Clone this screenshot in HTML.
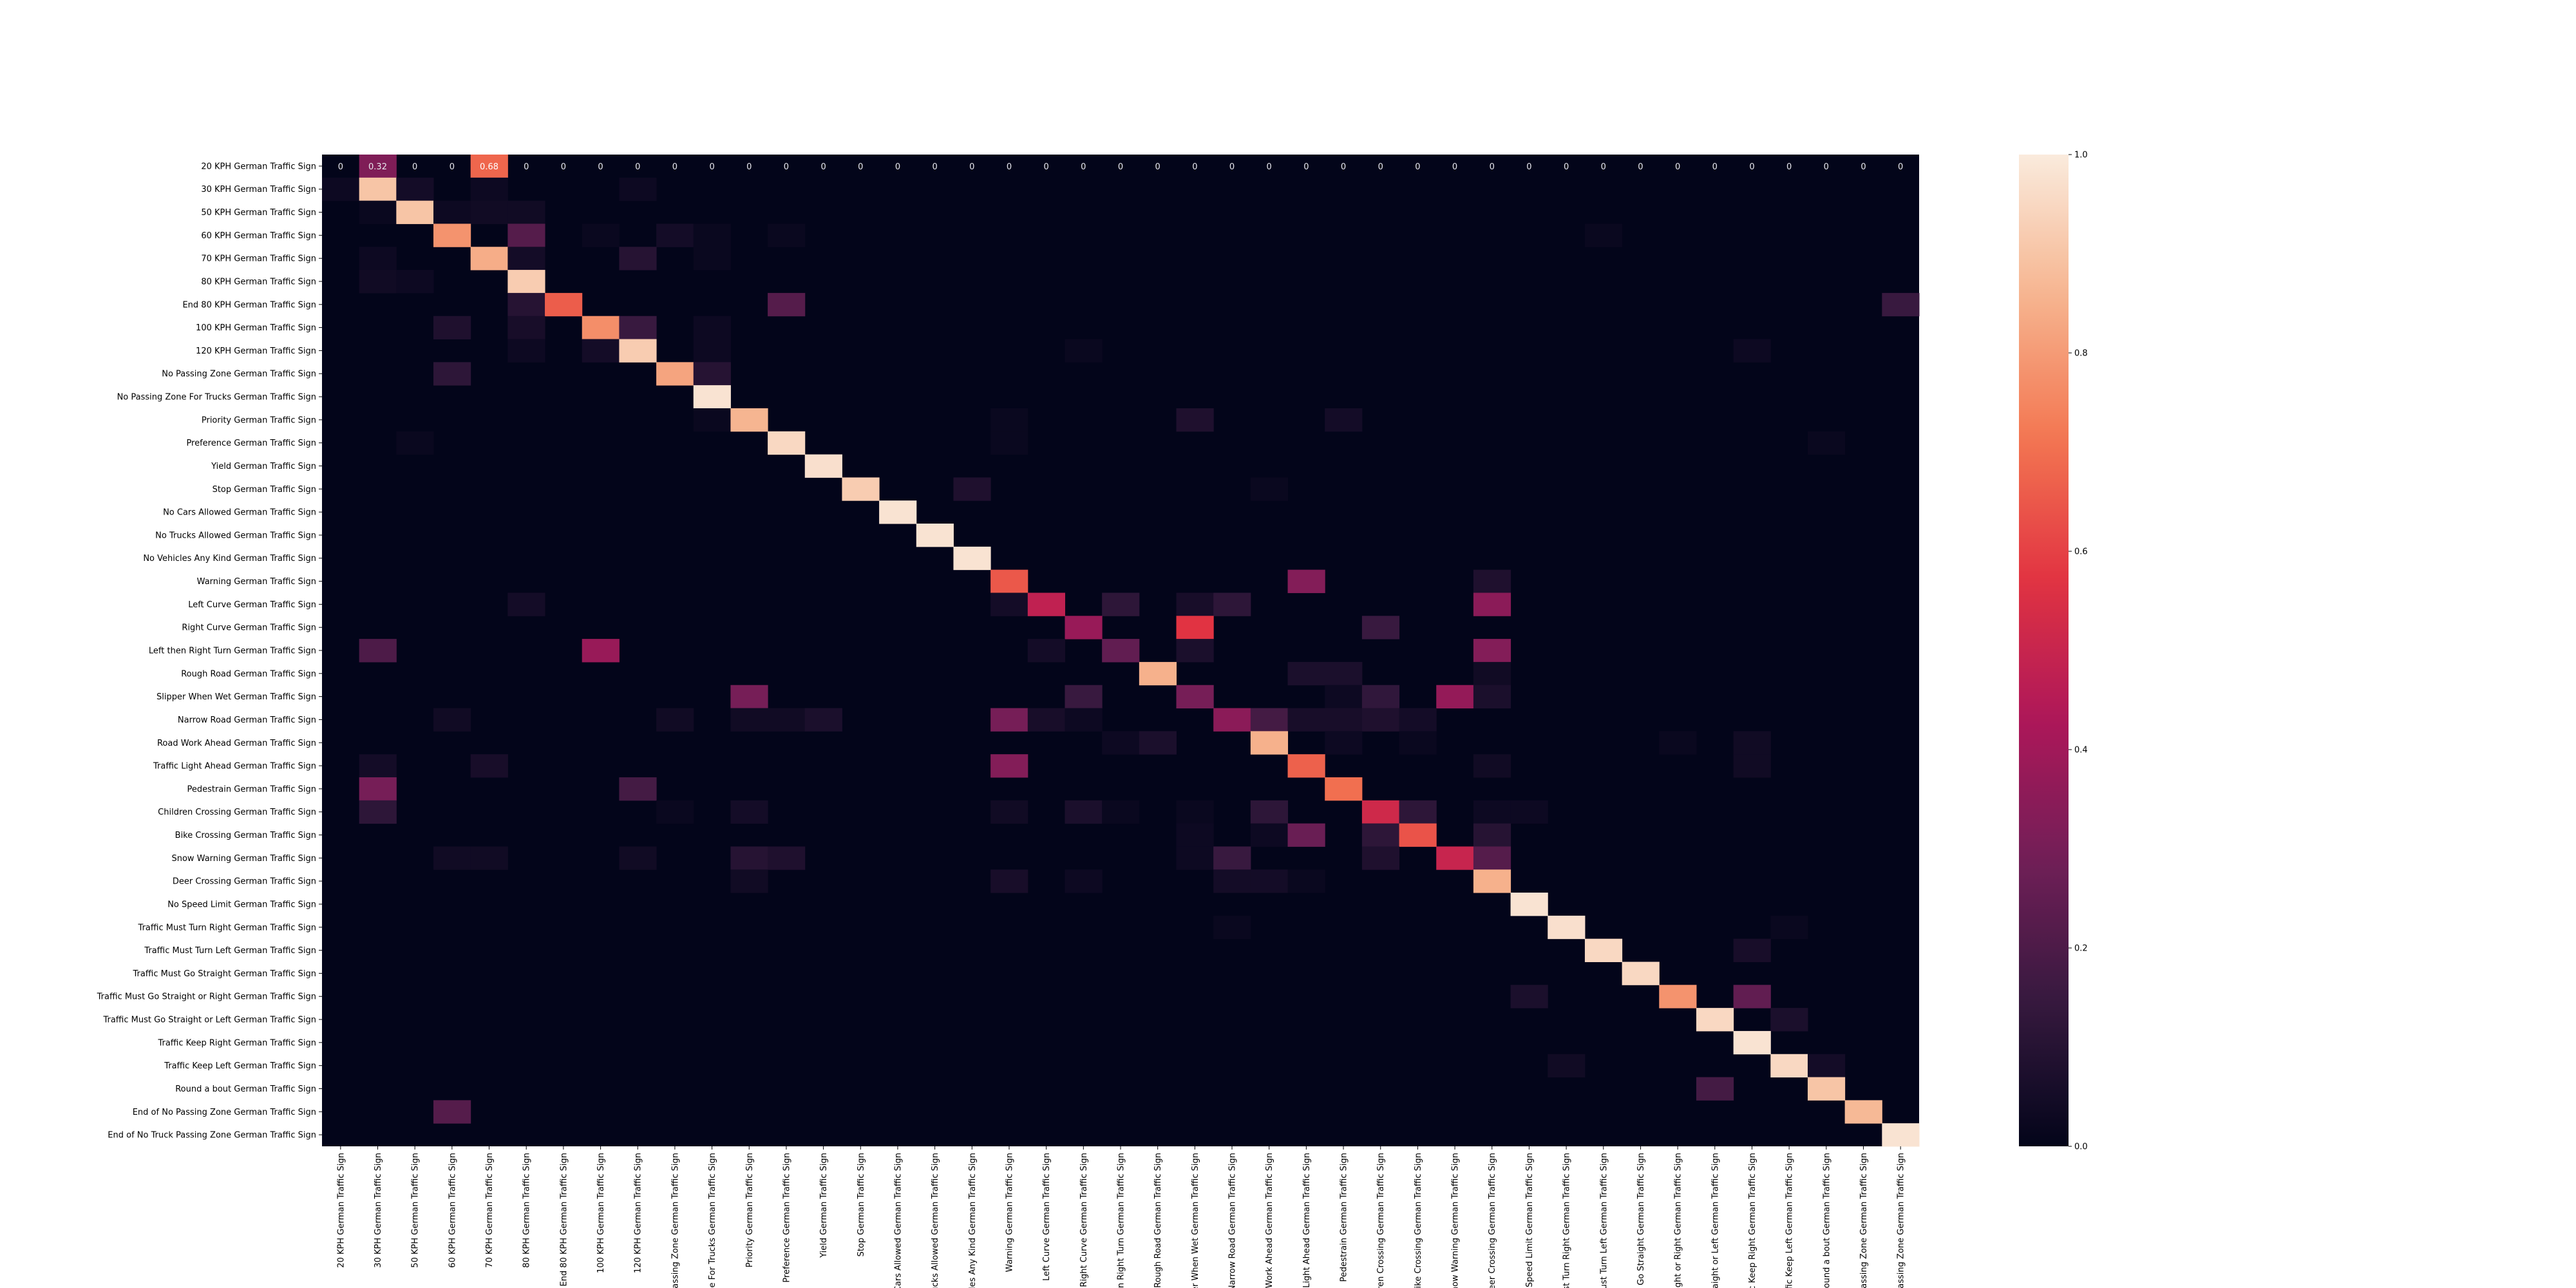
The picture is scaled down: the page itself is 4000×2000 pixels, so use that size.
<!DOCTYPE html>
<html><head><meta charset="utf-8"><style>
html,body{margin:0;padding:0;background:#fff;width:4000px;height:2000px;overflow:hidden;}
svg{display:block;overflow:hidden;font-family:"DejaVu Sans","Liberation Sans",sans-serif;}
</style></head><body>
<svg id="chart" width="4000" height="2000" viewBox="0 0 4000 2000" xmlns="http://www.w3.org/2000/svg">
<rect width="4000" height="2000" fill="#ffffff"/>
<g id="cells"></g>
<g id="annots"></g>
<g id="ylab"></g>
<g id="xlab"></g>
<g id="cbar"></g>
</svg>
<script>
const classNames = ["20 KPH German Traffic Sign","30 KPH German Traffic Sign","50 KPH German Traffic Sign","60 KPH German Traffic Sign","70 KPH German Traffic Sign","80 KPH German Traffic Sign","End 80 KPH German Traffic Sign","100 KPH German Traffic Sign","120 KPH German Traffic Sign","No Passing Zone German Traffic Sign","No Passing Zone For Trucks German Traffic Sign","Priority German Traffic Sign","Preference German Traffic Sign","Yield German Traffic Sign","Stop German Traffic Sign","No Cars Allowed German Traffic Sign","No Trucks Allowed German Traffic Sign","No Vehicles Any Kind German Traffic Sign","Warning German Traffic Sign","Left Curve German Traffic Sign","Right Curve German Traffic Sign","Left then Right Turn German Traffic Sign","Rough Road German Traffic Sign","Slipper When Wet German Traffic Sign","Narrow Road German Traffic Sign","Road Work Ahead German Traffic Sign","Traffic Light Ahead German Traffic Sign","Pedestrain German Traffic Sign","Children Crossing German Traffic Sign","Bike Crossing German Traffic Sign","Snow Warning German Traffic Sign","Deer Crossing German Traffic Sign","No Speed Limit German Traffic Sign","Traffic Must Turn Right German Traffic Sign","Traffic Must Turn Left German Traffic Sign","Traffic Must Go Straight German Traffic Sign","Traffic Must Go Straight or Right German Traffic Sign","Traffic Must Go Straight or Left German Traffic Sign","Traffic Keep Right German Traffic Sign","Traffic Keep Left German Traffic Sign","Round a bout German Traffic Sign","End of No Passing Zone German Traffic Sign","End of No Truck Passing Zone German Traffic Sign"];
const diagValues = [0,0.9,0.9,0.78,0.84,0.92,0.66,0.77,0.92,0.82,0.98,0.86,0.95,0.97,0.92,0.98,0.98,0.98,0.65,0.48,0.38,0.25,0.85,0.3,0.35,0.85,0.67,0.7,0.52,0.64,0.5,0.85,0.98,0.97,0.95,0.95,0.78,0.95,0.98,0.95,0.9,0.87,0.98];
// [row, col, value]
const offDiag = [
[0,1,0.32],[0,4,0.68],
[1,0,0.03],[1,2,0.05],[1,4,0.03],[1,8,0.03],
[2,1,0.02],[2,3,0.03],[2,4,0.04],[2,5,0.04],
[3,5,0.22],[3,7,0.02],[3,9,0.05],[3,10,0.02],[3,12,0.02],[3,34,0.02],
[4,1,0.03],[4,5,0.05],[4,8,0.1],[4,10,0.02],
[5,1,0.04],[5,2,0.03],
[6,5,0.1],[6,12,0.22],[6,42,0.15],
[7,3,0.08],[7,5,0.06],[7,8,0.15],[7,10,0.03],
[8,5,0.03],[8,7,0.05],[8,10,0.03],[8,20,0.02],[8,38,0.03],
[9,3,0.12],[9,10,0.1],
[11,10,0.02],[11,18,0.02],[11,23,0.08],[11,27,0.05],
[12,2,0.02],[12,18,0.02],[12,40,0.02],
[14,17,0.08],[14,25,0.02],
[18,26,0.33],[18,31,0.08],
[19,5,0.05],[19,18,0.05],[19,21,0.12],[19,23,0.06],[19,24,0.12],[19,31,0.35],
[20,23,0.57],[20,28,0.15],
[21,1,0.2],[21,7,0.38],[21,19,0.05],[21,23,0.07],[21,31,0.33],
[22,26,0.07],[22,27,0.07],[22,31,0.04],
[23,11,0.3],[23,20,0.15],[23,27,0.03],[23,28,0.13],[23,30,0.37],[23,31,0.07],
[24,3,0.04],[24,9,0.04],[24,11,0.04],[24,12,0.04],[24,13,0.07],[24,18,0.3],[24,19,0.06],[24,20,0.03],[24,25,0.18],[24,26,0.06],[24,27,0.06],[24,28,0.08],[24,29,0.05],
[25,21,0.03],[25,22,0.07],[25,27,0.03],[25,29,0.02],[25,36,0.02],[25,38,0.04],
[26,1,0.05],[26,4,0.06],[26,18,0.33],[26,31,0.04],[26,38,0.04],
[27,1,0.3],[27,8,0.18],
[28,1,0.12],[28,9,0.02],[28,11,0.05],[28,18,0.04],[28,20,0.07],[28,21,0.02],[28,23,0.02],[28,25,0.12],[28,29,0.12],[28,31,0.03],[28,32,0.03],
[29,23,0.03],[29,25,0.03],[29,26,0.27],[29,28,0.12],[29,31,0.1],
[30,3,0.04],[30,4,0.04],[30,8,0.04],[30,11,0.1],[30,12,0.08],[30,23,0.03],[30,24,0.15],[30,28,0.08],[30,31,0.22],
[31,11,0.04],[31,18,0.06],[31,20,0.03],[31,24,0.05],[31,25,0.05],[31,26,0.02],
[33,24,0.02],[33,39,0.02],
[34,38,0.06],
[36,32,0.07],[36,38,0.25],
[37,39,0.07],
[39,33,0.04],[39,40,0.05],
[40,37,0.18],
[41,3,0.22]
];
const annotRow = 0;
const cbarTicks = [0,0.2,0.4,0.6,0.8,1.0];
const cbarTickLabels = ["0.0","0.2","0.4","0.6","0.8","1.0"];

const NS="http://www.w3.org/2000/svg";
const X0=500,X1=2980,Y0=240,Y1=1780,N=classNames.length;
const cw=(X1-X0)/N,ch=(Y1-Y0)/N;
const xPos=c=>X0+c*cw, yPos=r=>Y0+r*ch;
const stops=[[0,[3,5,26]],[0.143,[53,25,62]],[0.286,[112,31,87]],[0.429,[173,23,89]],[0.571,[225,51,66]],[0.714,[243,118,81]],[0.857,[246,180,143]],[1,[250,235,221]]];
function color(v){v=Math.max(0,Math.min(1,v));for(let i=1;i<stops.length;i++){if(v<=stops[i][0]){const a=stops[i-1],b=stops[i];const t=(v-a[0])/(b[0]-a[0]);const c=a[1].map((x,k)=>Math.round(x+(b[1][k]-x)*t));return`rgb(${c[0]},${c[1]},${c[2]})`;}}return"rgb(250,235,221)";}
function mk(tag,attrs,parent){const e=document.createElementNS(NS,tag);for(const k in attrs)e.setAttribute(k,attrs[k]);parent.appendChild(e);return e;}
const M=[];for(let r=0;r<N;r++){M.push(new Array(N).fill(0));M[r][r]=diagValues[r];}
offDiag.forEach(([r,c,v])=>{M[r][c]=v;});
const gC=document.getElementById('cells'),gA=document.getElementById('annots'),gY=document.getElementById('ylab'),gX=document.getElementById('xlab'),gB=document.getElementById('cbar');
mk('rect',{x:X0,y:Y0,width:X1-X0,height:Y1-Y0,fill:color(0)},gC);
for(let r=0;r<N;r++)for(let c=0;c<N;c++){if(M[r][c]<=0)continue;
const e=mk('rect',{x:xPos(c),y:yPos(r),width:cw+0.5,height:ch+0.5,fill:color(M[r][c])},gC);

}
for(let c=0;c<N;c++){const v=M[annotRow][c];
const t=mk('text',{x:xPos(c)+cw/2,y:yPos(annotRow)+ch/2+5,'text-anchor':'middle','font-size':13,fill:v>0.6?'#ffffff':'#e8e8ee'},gA);
t.textContent=String(Math.round(v*100)/100);

}
for(let r=0;r<N;r++){const y=yPos(r)+ch/2;
mk('line',{x1:X0-5,x2:X0,y1:y,y2:y,stroke:'#000','stroke-width':1},gY);
const t=mk('text',{x:X0-9,y:y+4.5,'text-anchor':'end','font-size':13,fill:'#000'},gY);
t.textContent=classNames[r];

}
for(let c=0;c<N;c++){const x=xPos(c)+cw/2;
mk('line',{x1:x,x2:x,y1:Y1,y2:Y1+5,stroke:'#000','stroke-width':1},gX);
const t=mk('text',{x:0,y:0,'text-anchor':'end','font-size':13,fill:'#000',transform:`translate(${x+4.5},${Y1+10}) rotate(-90)`},gX);
t.textContent=classNames[c];

}
const CB0=3135,CB1=3212;
const defs=mk('defs',{},gB);const lg=mk('linearGradient',{id:'cg',x1:0,y1:1,x2:0,y2:0},defs);
for(let i=0;i<=40;i++){mk('stop',{offset:i/40,'stop-color':color(i/40)},lg);}
const cb=mk('rect',{x:CB0,y:Y0,width:CB1-CB0,height:Y1-Y0,fill:'url(#cg)'},gB);


cbarTicks.forEach((v,i)=>{const y=Y1-v*(Y1-Y0);
mk('line',{x1:CB1,x2:CB1+5,y1:y,y2:y,stroke:'#000','stroke-width':1},gB);
const t=mk('text',{x:CB1+9,y:y+4.5,'font-size':13,fill:'#000'},gB);
t.textContent=cbarTickLabels[i];

});
</script>
</body></html>
